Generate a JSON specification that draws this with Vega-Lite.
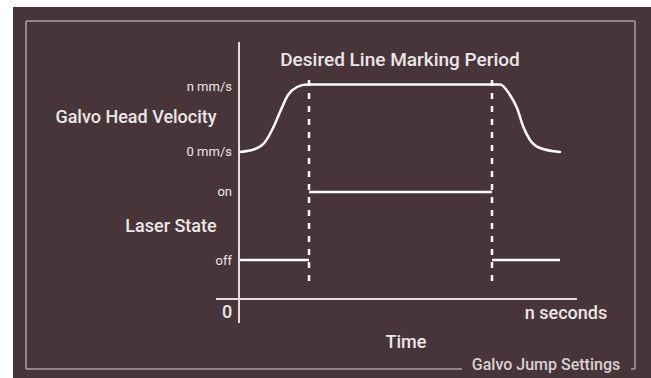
{
  "$schema": "https://vega.github.io/schema/vega-lite/v6.json",
  "width": 638,
  "height": 371,
  "autosize": {"type": "none"},
  "padding": {"left": 13, "top": 7, "right": 0, "bottom": 0},
  "background": "#ffffff",
  "view": {"fill": "#483539", "stroke": null},
  "config": {"font": "Roboto"},
  "datasets": {
    "segments": [
      {"part": "border", "x": -213, "x2": 396, "y": 357, "y2": 357},
      {"part": "border", "x": -213, "x2": -213, "y": 357, "y2": 9},
      {"part": "border", "x": 396, "x2": 396, "y": 357, "y2": 9},
      {"part": "border", "x": -213, "x2": 223, "y": 9, "y2": 9},
      {"part": "border", "x": 392, "x2": 396, "y": 9, "y2": 9},
      {"part": "axis", "x": 0, "x2": 0, "y": 336, "y2": 55},
      {"part": "axis", "x": -23, "x2": 338, "y": 79, "y2": 79},
      {"part": "laser", "x": 1, "x2": 70, "y": 118, "y2": 118},
      {"part": "laser", "x": 70, "x2": 253, "y": 186, "y2": 186},
      {"part": "laser", "x": 253, "x2": 321, "y": 118, "y2": 118},
      {"part": "period", "x": 70, "x2": 70, "y": 298, "y2": 95},
      {"part": "period", "x": 253, "x2": 253, "y": 298, "y2": 95}
    ],
    "velocity": [
      {"x": 1, "y": 226},
      {"x": 16, "y": 229},
      {"x": 26, "y": 236},
      {"x": 34, "y": 250},
      {"x": 41, "y": 266},
      {"x": 49, "y": 283},
      {"x": 58, "y": 291},
      {"x": 68, "y": 293.5},
      {"x": 261, "y": 293.5},
      {"x": 271, "y": 283},
      {"x": 278, "y": 270},
      {"x": 284, "y": 252},
      {"x": 291, "y": 238},
      {"x": 301, "y": 230},
      {"x": 321, "y": 226}
    ],
    "labels": [
      {"kind": "tick", "text": "n mm/s", "x": -7, "y": 291},
      {"kind": "tick", "text": "0 mm/s", "x": -7, "y": 226},
      {"kind": "tick", "text": "on", "x": -7, "y": 186},
      {"kind": "tick", "text": "off", "x": -7, "y": 117},
      {"kind": "big", "text": "Galvo Head Velocity", "x": -103, "y": 260},
      {"kind": "big", "text": "Laser State", "x": -68, "y": 151},
      {"kind": "big", "text": "0", "x": -12, "y": 65},
      {"kind": "big", "text": "n seconds", "x": 327, "y": 64},
      {"kind": "big", "text": "Time", "x": 167, "y": 35},
      {"kind": "title", "text": "Desired Line Marking Period", "x": 161, "y": 318},
      {"kind": "footer", "text": "Galvo Jump Settings", "x": 307, "y": 13}
    ]
  },
  "encoding": {
    "x": {"field": "x", "type": "quantitative", "scale": {"domain": [-226, 412], "nice": false, "zero": false}, "axis": null},
    "y": {"field": "y", "type": "quantitative", "scale": {"domain": [0, 371], "nice": false, "zero": false}, "axis": null}
  },
  "layer": [
    {
      "data": {"name": "segments"},
      "transform": [{"filter": "datum.part === 'border'"}],
      "mark": {"type": "rule", "stroke": "#a9a0a2", "strokeWidth": 1.5},
      "encoding": {"x2": {"field": "x2"}, "y2": {"field": "y2"}}
    },
    {
      "data": {"name": "segments"},
      "transform": [{"filter": "datum.part === 'axis'"}],
      "mark": {"type": "rule", "stroke": "#e2dcdc", "strokeWidth": 2},
      "encoding": {"x2": {"field": "x2"}, "y2": {"field": "y2"}}
    },
    {
      "data": {"name": "segments"},
      "transform": [{"filter": "datum.part === 'laser'"}],
      "mark": {"type": "rule", "stroke": "#ffffff", "strokeWidth": 2.5},
      "encoding": {"x2": {"field": "x2"}, "y2": {"field": "y2"}}
    },
    {
      "data": {"name": "segments"},
      "transform": [{"filter": "datum.part === 'period'"}],
      "mark": {"type": "rule", "stroke": "#ffffff", "strokeWidth": 2.5, "strokeDash": [6, 7]},
      "encoding": {"x2": {"field": "x2"}, "y2": {"field": "y2"}}
    },
    {
      "data": {"name": "velocity"},
      "mark": {"type": "line", "stroke": "#ffffff", "strokeWidth": 2.5, "interpolate": "monotone", "strokeCap": "round"},
      "encoding": {}
    },
    {
      "data": {"name": "labels"},
      "transform": [{"filter": "datum.kind === 'tick'"}],
      "mark": {"type": "text", "align": "right", "baseline": "middle", "fontSize": 13, "fontWeight": 400, "fill": "#ece7e7"},
      "encoding": {"text": {"field": "text"}}
    },
    {
      "data": {"name": "labels"},
      "transform": [{"filter": "datum.kind === 'big'"}],
      "mark": {"type": "text", "align": "center", "baseline": "middle", "fontSize": 18, "fontWeight": 500, "fill": "#ece7e7"},
      "encoding": {"text": {"field": "text"}}
    },
    {
      "data": {"name": "labels"},
      "transform": [{"filter": "datum.kind === 'title'"}],
      "mark": {"type": "text", "align": "center", "baseline": "middle", "fontSize": 19, "fontWeight": 500, "fill": "#ece7e7"},
      "encoding": {"text": {"field": "text"}}
    },
    {
      "data": {"name": "labels"},
      "transform": [{"filter": "datum.kind === 'footer'"}],
      "mark": {"type": "text", "align": "center", "baseline": "middle", "fontSize": 16, "fontWeight": 500, "fill": "#d9d2d3"},
      "encoding": {"text": {"field": "text"}}
    }
  ]
}
